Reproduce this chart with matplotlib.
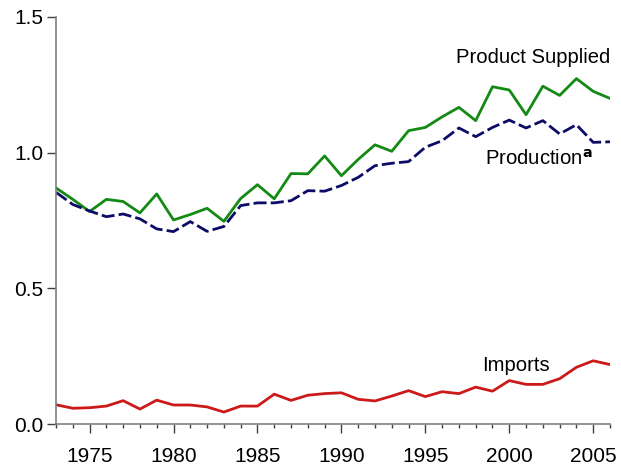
import matplotlib.pyplot as plt
from matplotlib.ticker import MultipleLocator

plt.rcParams['font.family'] = ['Liberation Sans', 'DejaVu Sans']

years = list(range(1973, 2007))

# Product supplied, production and imports (million barrels per day)
supplied = [0.870, 0.828, 0.783, 0.828, 0.820, 0.778, 0.848, 0.752, 0.772, 0.795,
            0.747, 0.831, 0.882, 0.830, 0.923, 0.922, 0.988, 0.915, 0.975, 1.029,
            1.005, 1.081, 1.093, 1.132, 1.167, 1.118, 1.243, 1.231, 1.140, 1.245,
            1.211, 1.273, 1.226, 1.200]
production = [0.854, 0.809, 0.785, 0.764, 0.774, 0.756, 0.719, 0.709, 0.746, 0.710,
              0.728, 0.805, 0.815, 0.815, 0.823, 0.860, 0.858, 0.879, 0.909, 0.952,
              0.961, 0.967, 1.020, 1.044, 1.091, 1.059, 1.093, 1.120, 1.091, 1.118,
              1.069, 1.103, 1.038, 1.040]
imports = [0.071, 0.058, 0.060, 0.066, 0.086, 0.055, 0.088, 0.070, 0.070, 0.063,
           0.044, 0.066, 0.066, 0.110, 0.087, 0.106, 0.112, 0.115, 0.091, 0.085,
           0.103, 0.123, 0.101, 0.119, 0.112, 0.136, 0.121, 0.160, 0.146, 0.146,
           0.167, 0.209, 0.233, 0.219]

fig = plt.figure(figsize=(6.21, 4.65), dpi=100)
ax = fig.add_axes([56 / 621, 41 / 465, 554 / 621, 407 / 465])

ax.plot(years, supplied, color='#138a13', lw=2.0)
ax.plot(years, production, color='#0c0c66', lw=2.0, dashes=(4.7, 1.5))
ax.plot(years, imports, color='#cc1a1a', lw=2.0)

ax.text(1996.85, 1.350, 'Product Supplied', fontsize=14.6, ha='left', va='center')
ax.text(1998.55, 0.977, r'Production$^{\mathbf{a}}$', fontsize=14.6, ha='left', va='center')
ax.text(1998.4, 0.216, 'Imports', fontsize=14.6, ha='left', va='center')

ax.set_xlim(1973, 2006)
ax.set_ylim(0, 1.5)
ax.xaxis.set_major_locator(MultipleLocator(5))
ax.xaxis.set_minor_locator(MultipleLocator(1))
ax.yaxis.set_major_locator(MultipleLocator(0.5))
ax.yaxis.set_major_formatter(plt.FuncFormatter(lambda v, p: f'{v:.1f}'))

for side in ('top', 'right'):
    ax.spines[side].set_visible(False)
for side in ('left', 'bottom'):
    ax.spines[side].set_color('#808080')
    ax.spines[side].set_linewidth(1.2)

ax.tick_params(axis='both', which='major', labelsize=15, color='#404040', width=1.0)
ax.tick_params(axis='x', which='major', length=6.3, pad=10)
ax.tick_params(axis='x', which='minor', length=3, color='#404040', width=1.0)
ax.tick_params(axis='y', which='major', length=6.5, pad=2.5)

fig.savefig('out.png', dpi=100)
